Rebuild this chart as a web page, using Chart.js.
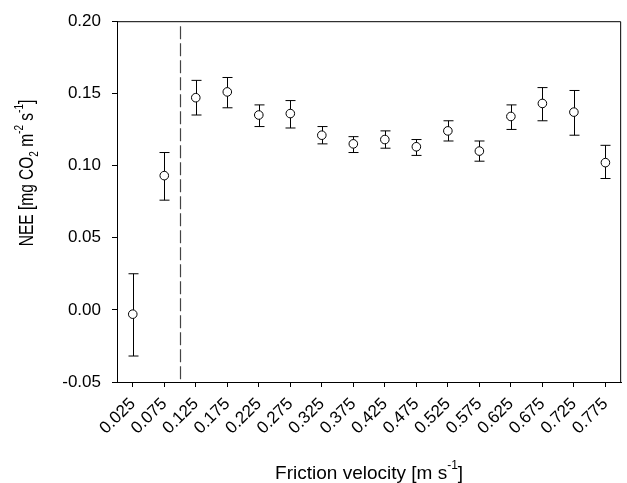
<!DOCTYPE html>
<html>
<head>
<meta charset="utf-8">
<script src="https://cdn.jsdelivr.net/npm/chart.js@4"></script>
<style>
    body { margin: 0; background: #fff; }
    #wrap { width: 627px; height: 483px; }
</style>
</head>
<body>
<div id="wrap"><canvas id="neeChart" width="627" height="483"></canvas></div>
<script>
// friction velocity classes (bin centres)
const ustarLabels = ['0.025', '0.075', '0.125', '0.175', '0.225', '0.275', '0.325', '0.375',
    '0.425', '0.475', '0.525', '0.575', '0.625', '0.675', '0.725', '0.775'];
// mean NEE per class
const neeMean = [-0.003, 0.093, 0.147, 0.151, 0.135, 0.136, 0.121, 0.115,
    0.118, 0.113, 0.124, 0.110, 0.134, 0.143, 0.137, 0.102];
// error bar ends
const neeUpper = [0.025, 0.109, 0.159, 0.161, 0.142, 0.145, 0.127, 0.120,
    0.124, 0.118, 0.131, 0.117, 0.142, 0.154, 0.152, 0.114];
const neeLower = [-0.032, 0.076, 0.135, 0.140, 0.127, 0.126, 0.115, 0.109,
    0.112, 0.107, 0.117, 0.103, 0.125, 0.131, 0.121, 0.091];
const yTicks = [-0.05, 0.00, 0.05, 0.10, 0.15, 0.20];
// u* threshold sits between the 0.075 and 0.125 classes
const thresholdBetween = [1, 2];

const fontFamily = "'Liberation Sans', Arial, Helvetica, sans-serif";

// draws text pieces with sub/superscripts, centred on (0,0) baseline
function drawRichText(ctx, parts) {
    let total = 0;
    parts.forEach(p => {
        ctx.font = p.size + 'px ' + fontFamily;
        p.w = ctx.measureText(p.t).width;
        total += p.w;
    });
    let x = -total / 2;
    ctx.fillStyle = '#000';
    ctx.textBaseline = 'alphabetic';
    ctx.textAlign = 'left';
    parts.forEach(p => {
        ctx.font = p.size + 'px ' + fontFamily;
        ctx.fillText(p.t, x, p.dy || 0);
        x += p.w;
    });
}

const xTitle = [
    { t: 'Friction velocity [m s', size: 19 },
    { t: '-1', size: 12, dy: -10 },
    { t: ']', size: 19 }
];
const yTitle = [
    { t: 'NEE [mg CO', size: 15.5 },
    { t: '2', size: 10, dy: 4 },
    { t: ' m', size: 15.5 },
    { t: '-2', size: 10, dy: -8 },
    { t: ' s', size: 15.5 },
    { t: '-1', size: 10, dy: -8 },
    { t: ']', size: 15.5 }
];

const extrasPlugin = {
    id: 'extras',
    beforeDatasetsDraw(chart) {
        const ctx = chart.ctx;
        const xs = chart.scales.x;
        const ys = chart.scales.y;
        const area = chart.chartArea;
        ctx.save();

        // threshold line
        const tx = Math.round((xs.getPixelForValue(thresholdBetween[0]) + xs.getPixelForValue(thresholdBetween[1])) / 2) + 0.5;
        ctx.strokeStyle = '#444';
        ctx.lineWidth = 1.2;
        ctx.setLineDash([13, 4]);
        ctx.beginPath();
        ctx.moveTo(tx, area.top + 5);
        ctx.lineTo(tx, area.bottom);
        ctx.stroke();
        ctx.setLineDash([]);

        // error bars
        ctx.strokeStyle = '#000';
        ctx.lineWidth = 1;
        neeMean.forEach((v, i) => {
            const x = Math.round(xs.getPixelForValue(i)) + 0.5;
            const yHi = ys.getPixelForValue(neeUpper[i]);
            const yLo = ys.getPixelForValue(neeLower[i]);
            ctx.beginPath();
            ctx.moveTo(x, yHi);
            ctx.lineTo(x, yLo);
            ctx.moveTo(x - 5, yHi);
            ctx.lineTo(x + 5, yHi);
            ctx.moveTo(x - 5, yLo);
            ctx.lineTo(x + 5, yLo);
            ctx.stroke();
        });
        ctx.restore();
    },
    afterDraw(chart) {
        const ctx = chart.ctx;
        const area = chart.chartArea;
        ctx.save();
        // top and right frame
        ctx.strokeStyle = '#000';
        ctx.lineWidth = 1;
        ctx.beginPath();
        ctx.moveTo(area.left, area.top + 0.5);
        ctx.lineTo(area.right - 0.5, area.top + 0.5);
        ctx.lineTo(area.right - 0.5, area.bottom);
        ctx.stroke();

        // axis titles
        ctx.save();
        ctx.translate((area.left + area.right) / 2, 479);
        drawRichText(ctx, xTitle);
        ctx.restore();

        ctx.save();
        ctx.translate(33, 173);
        ctx.rotate(-Math.PI / 2);
        ctx.scale(1, 1.28);
        drawRichText(ctx, yTitle);
        ctx.restore();

        ctx.restore();
    }
};

new Chart(document.getElementById('neeChart').getContext('2d'), {
    type: 'line',
    data: {
        labels: ustarLabels,
        datasets: [{
            data: neeMean,
            showLine: false,
            pointRadius: 4.3,
            pointHoverRadius: 4.3,
            pointBackgroundColor: '#fff',
            pointBorderColor: '#000',
            pointBorderWidth: 1
        }]
    },
    options: {
        responsive: false,
        animation: false,
        devicePixelRatio: 1,
        layout: { padding: { top: 17, right: 2, left: 0, bottom: 0 } },
        plugins: {
            legend: { display: false },
            tooltip: { enabled: false }
        },
        scales: {
            x: {
                type: 'category',
                offset: true,
                grid: { display: true, drawOnChartArea: false, drawTicks: true, tickLength: 5, color: '#000' },
                border: { display: true, color: '#000', width: 1 },
                ticks: {
                    color: '#000',
                    autoSkip: false,
                    minRotation: 45,
                    maxRotation: 45,
                    padding: 7,
                    font: { family: fontFamily, size: 17 }
                },
                afterFit: s => { s.height = 101; }
            },
            y: {
                min: yTicks[0],
                max: yTicks[yTicks.length - 1],
                grid: { display: true, drawOnChartArea: false, drawTicks: true, tickLength: 5, color: '#000' },
                border: { display: true, color: '#000', width: 1 },
                afterBuildTicks: s => { s.ticks = yTicks.map(v => ({ value: v })); },
                ticks: {
                    color: '#000',
                    padding: 11,
                    font: { family: fontFamily, size: 17 },
                    callback: v => v.toFixed(2)
                },
                afterFit: s => { s.width = 117; }
            }
        }
    },
    plugins: [extrasPlugin]
});
</script>
</body>
</html>
